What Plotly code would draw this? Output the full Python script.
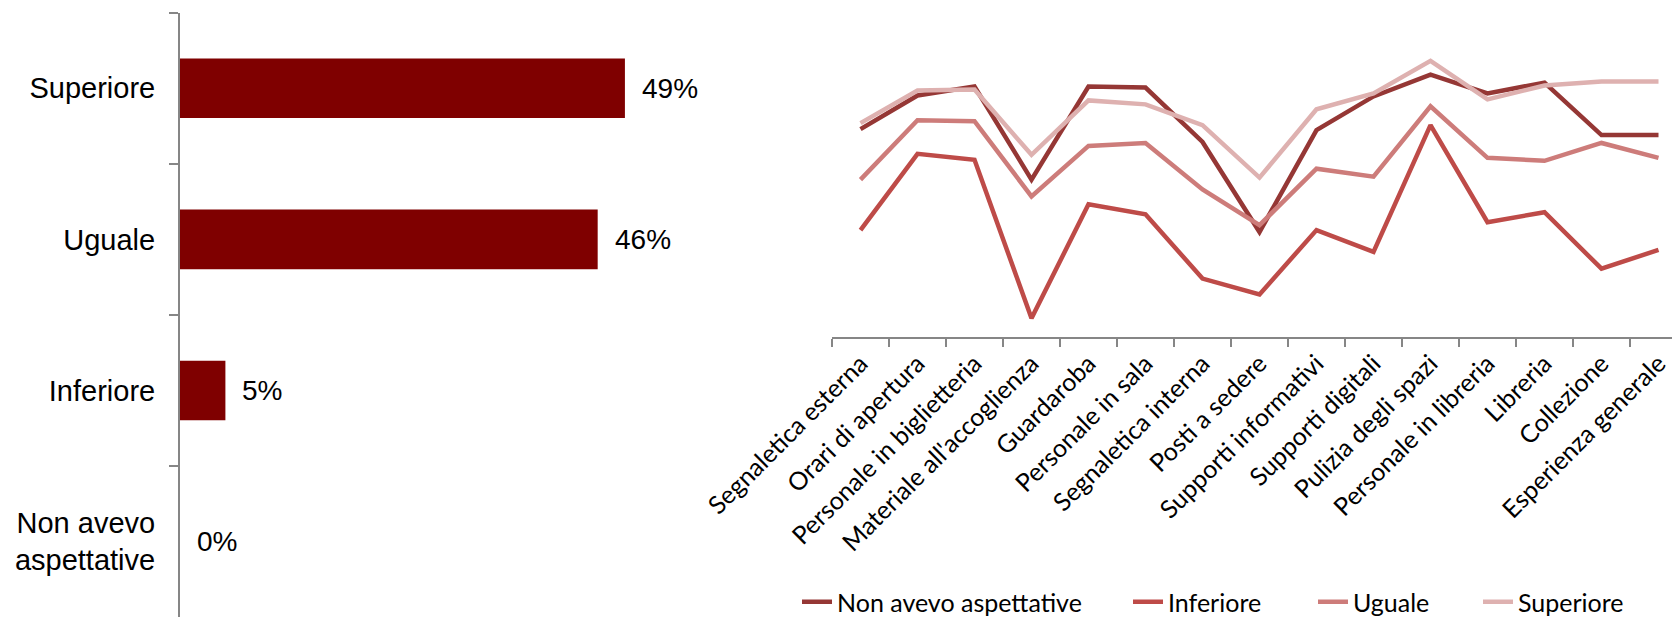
import plotly.graph_objects as go

# ---- data ----------------------------------------------------------------
bar_categories = ["Superiore", "Uguale", "Inferiore", "Non avevo<br>aspettative"]
bar_values = [49, 46, 5, 0]

aspects = [
    "Segnaletica esterna", "Orari di apertura", "Personale in biglietteria",
    "Materiale all'accoglienza", "Guardaroba", "Personale in sala",
    "Segnaletica interna", "Posti a sedere", "Supporti informativi",
    "Supporti digitali", "Pulizia degli spazi", "Personale in libreria",
    "Libreria", "Collezione", "Esperienza generale",
]
series_names = ["Non avevo aspettative", "Inferiore", "Uguale", "Superiore"]
non_avevo = [8.10, 8.44, 8.53, 7.59, 8.53, 8.52, 7.97, 7.06, 8.09, 8.43, 8.65, 8.46, 8.57, 8.04, 8.04]
inferiore = [7.08, 7.85, 7.79, 6.19, 7.34, 7.24, 6.59, 6.43, 7.08, 6.86, 8.14, 7.16, 7.26, 6.69, 6.88]
uguale = [7.59, 8.19, 8.18, 7.42, 7.93, 7.96, 7.49, 7.13, 7.70, 7.62, 8.33, 7.81, 7.78, 7.96, 7.81]
superiore = [8.16, 8.49, 8.50, 7.84, 8.39, 8.35, 8.14, 7.61, 8.30, 8.46, 8.79, 8.40, 8.54, 8.58, 8.58]
series_values = [non_avevo, inferiore, uguale, superiore]

# ---- styling -------------------------------------------------------------
W, H = 1672, 617
BAR_COLOR = "#7F0000"
LINE_COLORS = ["#953735", "#BE4B48", "#CD7C7A", "#DEB1B0"]
AXIS_GRAY = "#868686"
ARIAL = "Liberation Sans, Arial, sans-serif"
CALIBRI = "Lato, Carlito, Calibri, sans-serif"

fig = go.Figure()

# left panel: horizontal bars
fig.add_trace(go.Bar(
    x=bar_values, y=bar_categories, orientation="h",
    marker=dict(color=BAR_COLOR, line=dict(width=0)),
    width=0.394, xaxis="x", yaxis="y", showlegend=False, hoverinfo="skip",
))
for cat, val in zip(bar_categories, bar_values):
    fig.add_annotation(
        x=val, y=cat, xref="x", yref="y", text=f"{val}%", showarrow=False,
        xanchor="left", yanchor="middle", xshift=15,
        font=dict(family=ARIAL, size=28, color="black"),
    )

# right panel: one line per expectation group
legend_ids = ["legend", "legend2", "legend3", "legend4"]
for name, vals, color, lg in zip(series_names, series_values, LINE_COLORS, legend_ids):
    fig.add_trace(go.Scatter(
        x=aspects, y=vals, name=name, mode="lines",
        line=dict(color=color, width=4.5),
        xaxis="x2", yaxis="y2", legend=lg, hoverinfo="skip",
    ))

legend_text_x = [837, 1168, 1353, 1518]
legend_common = dict(
    orientation="h", xanchor="left", yanchor="middle", y=1 - 602 / H,
    font=dict(family=CALIBRI, size=25, color="black"),
    bgcolor="rgba(0,0,0,0)", borderwidth=0,
)
legend_layout = {}
for lg, tx in zip(legend_ids, legend_text_x):
    legend_layout[lg] = dict(legend_common, x=(tx - 40) / W)

line_px_per_cat = 57.0
x2_left = 832.0

fig.update_layout(
    width=W, height=H,
    margin=dict(l=0, r=0, t=0, b=0, autoexpand=False),
    paper_bgcolor="white", plot_bgcolor="white",
    xaxis=dict(
        domain=[180 / W, (180 + 9.08 * 60) / W], range=[0, 60],
        visible=False, fixedrange=True,
    ),
    yaxis=dict(
        domain=[0, 1 - 12.8 / H], type="category",
        categoryorder="array", categoryarray=bar_categories,
        range=[3.5, -0.5], anchor="x",
        showline=True, linecolor=AXIS_GRAY, linewidth=2,
        ticks="outside", tickson="boundaries", ticklen=9,
        tickcolor=AXIS_GRAY, tickwidth=2,
        ticklabelstandoff=17,
        tickfont=dict(family=ARIAL, size=29, color="black"),
        showgrid=False, zeroline=False, automargin=False,
    ),
    xaxis2=dict(
        domain=[x2_left / W, 1], type="category",
        categoryorder="array", categoryarray=aspects,
        range=[-0.5, -0.5 + (W - x2_left) / line_px_per_cat], anchor="y2",
        showline=True, linecolor=AXIS_GRAY, linewidth=2,
        ticks="outside", tickson="boundaries", ticklen=8,
        tickcolor=AXIS_GRAY, tickwidth=2, tickangle=-45,
        tickfont=dict(family=CALIBRI, size=25, color="black"),
        showgrid=False, zeroline=False, automargin=False,
    ),
    yaxis2=dict(
        domain=[1 - 337 / H, 1 - 40 / H], range=[6, 9], anchor="x2",
        visible=False, showgrid=False, zeroline=False,
    ),
    **legend_layout,
)

fig.write_html("out.html")
